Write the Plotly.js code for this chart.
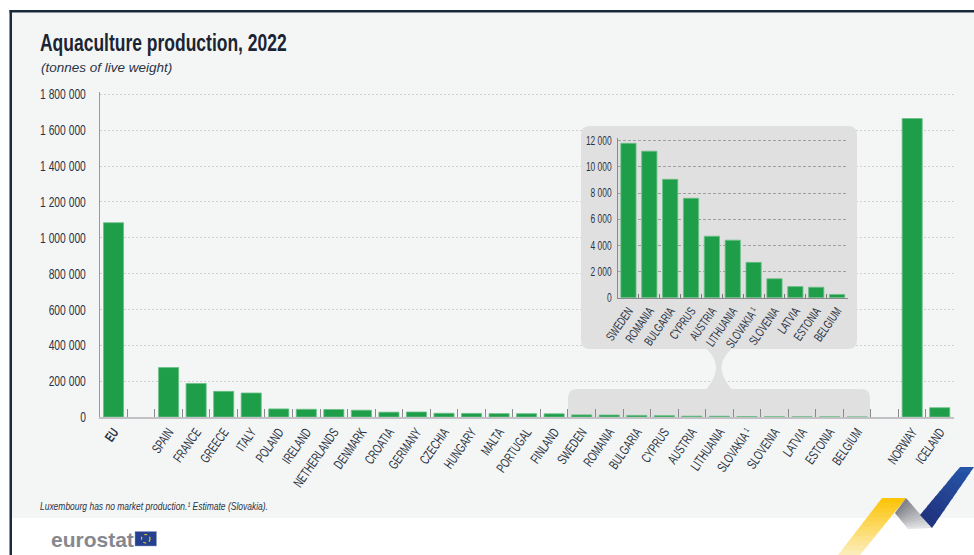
<!DOCTYPE html>
<html>
<head>
<meta charset="utf-8">
<script src="https://cdn.plot.ly/plotly-3.0.1.min.js"></script>
<style>html,body{margin:0;padding:0;background:#fff}#chart{width:974px;height:555px}</style>
</head>
<body>
<div id="chart"></div>
<script>
// Aquaculture production by country, tonnes of live weight
const mainCategories = ['EU', ' ', 'SPAIN', 'FRANCE', 'GREECE', 'ITALY', 'POLAND', 'IRELAND', 'NETHERLANDS', 'DENMARK', 'CROATIA', 'GERMANY', 'CZECHIA', 'HUNGARY', 'MALTA', 'PORTUGAL', 'FINLAND', 'SWEDEN', 'ROMANIA', 'BULGARIA', 'CYPRUS', 'AUSTRIA', 'LITHUANIA', 'SLOVAKIA ¹', 'SLOVENIA', 'LATVIA', 'ESTONIA', 'BELGIUM', '  ', 'NORWAY', 'ICELAND'];
const mainTickText = ['<b>EU</b>', ' ', 'SPAIN', 'FRANCE', 'GREECE', 'ITALY', 'POLAND', 'IRELAND', 'NETHERLANDS', 'DENMARK', 'CROATIA', 'GERMANY', 'CZECHIA', 'HUNGARY', 'MALTA', 'PORTUGAL', 'FINLAND', 'SWEDEN', 'ROMANIA', 'BULGARIA', 'CYPRUS', 'AUSTRIA', 'LITHUANIA', 'SLOVAKIA ¹', 'SLOVENIA', 'LATVIA', 'ESTONIA', 'BELGIUM', ' ', 'NORWAY', 'ICELAND'];
const mainValues = [1084000, null, 276000, 187000, 143000, 134000, 45000, 43000, 42000, 38000, 27000, 28000, 21000, 20000, 19000, 18500, 18000, 11800, 11200, 9050, 7600, 4700, 4400, 2700, 1450, 850, 800, 250, null, 1665000, 52000];
const insetCategories = ['SWEDEN', 'ROMANIA', 'BULGARIA', 'CYPRUS', 'AUSTRIA', 'LITHUANIA', 'SLOVAKIA ¹', 'SLOVENIA', 'LATVIA', 'ESTONIA', 'BELGIUM'];
const insetValues = [11800, 11200, 9050, 7600, 4700, 4400, 2700, 1450, 850, 800, 250];

const W = 974, H = 555;
const ink = '#2b3445', green = '#1f9e4a', greenEdge = '#6cc088', panel = '#e0e0e0', sheet = '#f4f6f6';
const face = '"Liberation Sans", sans-serif';

// Plot frame in page pixels
const plotL = 99.75, plotR = 953.5, plotT = 94.3, plotB = 417;
const inL = 618, inR = 847.5, inT = 140.7, inB = 297.7;
const yMax = 1800000, inMax = 12000, slots = mainCategories.length;
// Each value axis runs a little past its last tick so that tick keeps its gridline
const headPx = 2.5;
const yTop = yMax * (1 + headPx / (plotB - plotT));
const inTop = inMax * (1 + headPx / (inB - inT));

const fx = p => p / W, fy = p => 1 - p / H;
const dataX = p => -0.5 + (p - plotL) / (plotR - plotL) * slots;
const dataY = p => (plotB - p) / (plotB - plotT) * yMax;

// Grey callout linking the small producers to the enlarged panel, in data units of the main plot
function calloutPath() {
  const r = 9;
  const seq = [
    ['M', 581 + r, 126], ['L', 857 - r, 126], ['Q', 857, 126, 857, 126 + r], ['L', 857, 349 - r], ['Q', 857, 349, 857 - r, 349],
    ['L', 731.5, 349], ['C', 725, 355, 721.7, 361, 721.7, 368], ['C', 721.7, 375, 726, 382, 731.5, 389],
    ['L', 870 - r, 389], ['Q', 870, 389, 870, 389 + r], ['L', 870, plotB], ['L', 568, plotB], ['L', 568, 389 + r], ['Q', 568, 389, 568 + r, 389],
    ['L', 706.5, 389], ['C', 712, 382, 716, 375, 716, 368], ['C', 716, 361, 713, 355, 706.5, 349],
    ['L', 581 + r, 349], ['Q', 581, 349, 581, 349 - r], ['L', 581, 126 + r], ['Q', 581, 126, 581 + r, 126]
  ];
  return seq.map(s => {
    const out = [s[0]];
    for (let i = 1; i < s.length; i += 2) out.push(dataX(s[i]).toFixed(5) + ',' + dataY(s[i + 1]).toFixed(1));
    return out.join(' ');
  }).join(' ') + ' Z';
}

const paperPoly = pts => 'M ' + pts.map(q => fx(q[0]) + ',' + fy(q[1])).join(' L ') + ' Z';
const paperShape = (pts, color) => ({type: 'path', xref: 'paper', yref: 'paper', layer: 'below', path: paperPoly(pts), fillcolor: color, line: {width: 0}});

// Ribbon band cut into slices so its colour runs from one end to the other
function band(a0, a1, b0, b1, c0, c1, n) {
  const mix = (u, v, t) => u + (v - u) * t;
  const out = [];
  for (let i = 0; i < n; i++) {
    const s = i / n, e = (i + 1) / n;
    const col = 'rgb(' + [0, 1, 2].map(k => Math.round(mix(c0[k], c1[k], s))).join(',') + ')';
    const e2 = Math.min(1, e + 0.02);
    out.push(paperShape([
      [mix(a0[0], a1[0], s), mix(a0[1], a1[1], s)], [mix(b0[0], b1[0], s), mix(b0[1], b1[1], s)],
      [mix(b0[0], b1[0], e2), mix(b0[1], b1[1], e2)], [mix(a0[0], a1[0], e2), mix(a0[1], a1[1], e2)]
    ], col));
  }
  return out;
}

const shapes = [
  {type: 'rect', xref: 'paper', yref: 'paper', layer: 'below', x0: fx(12), x1: 1, y0: fy(518), y1: fy(12.5), fillcolor: sheet, line: {width: 0}},
  {type: 'rect', xref: 'paper', yref: 'paper', layer: 'below', x0: fx(9.5), x1: fx(12), y0: 0, y1: fy(10), fillcolor: '#1b2a3a', line: {width: 0}},
  {type: 'rect', xref: 'paper', yref: 'paper', layer: 'below', x0: fx(9.5), x1: 1, y0: fy(12.5), y1: fy(10), fillcolor: '#1b2a3a', line: {width: 0}},
  ...band([882, 498], [838, 555], [906, 498], [860, 555], [252, 197, 10], [252, 240, 200], 12),
  ...band([906, 498], [932, 528], [895, 513], [908, 529], [130, 132, 138], [235, 236, 238], 10),
  ...band([974, 467], [932, 528], [960, 467], [920, 515], [38, 84, 166], [32, 48, 124], 10),
  {type: 'rect', xref: 'paper', yref: 'paper', layer: 'below', x0: fx(135), x1: fx(156.5), y0: fy(546), y1: fy(531.5), fillcolor: '#24408e', line: {color: '#8fa0c8', width: 0.5}},
  {type: 'circle', xref: 'paper', yref: 'paper', layer: 'below', x0: fx(141.5), x1: fx(150), y0: fy(543), y1: fy(534.5), fillcolor: 'rgba(0,0,0,0)', line: {color: '#e8c81e', width: 1.2, dash: 'dot'}},
  {type: 'path', xref: 'x', yref: 'y', layer: 'between', path: calloutPath(), fillcolor: panel, line: {width: 0}}
];

const barStyle = {color: green, line: {color: greenEdge, width: 0.8}};
const traces = [
  {type: 'bar', x: mainCategories, y: mainValues, xaxis: 'x', yaxis: 'y', marker: barStyle},
  {type: 'bar', x: insetCategories, y: insetValues, xaxis: 'x2', yaxis: 'y2', marker: barStyle}
];

const layout = {
  width: W, height: H,
  margin: {l: 0, r: 0, t: 0, b: 0, pad: 0},
  paper_bgcolor: '#ffffff', plot_bgcolor: 'rgba(0,0,0,0)',
  showlegend: false, bargap: 0.27,
  separators: '. ',
  font: {family: face, color: ink, size: 13},
  title: {text: '<b>Aquaculture production, 2022</b>', x: fx(40), xanchor: 'left', y: fy(43), yanchor: 'middle',
    font: {family: face, size: 23, color: '#1b2433'}},
  xaxis: {
    domain: [fx(plotL), fx(plotR)], anchor: 'y', type: 'category', categoryorder: 'array', categoryarray: mainCategories,
    range: [-0.5, slots - 0.5], tickmode: 'array', tickvals: mainCategories, ticktext: mainTickText, tickson: 'boundaries',
    ticks: 'inside', ticklen: 8, tickwidth: 1, tickcolor: '#8a8a8e', tickangle: -55,
    showline: true, linecolor: '#c2c2c6', linewidth: 2, showgrid: false, zeroline: false,
    tickfont: {size: 13.5, family: face, color: ink}
  },
  yaxis: {
    domain: [fy(plotB), fy(plotT - headPx)], anchor: 'x', range: [0, yTop], tick0: 0, dtick: 200000, tickformat: ',d',
    ticks: '', ticklabelstandoff: 10, showline: true, linecolor: '#9a9a9a', linewidth: 1,
    showgrid: true, gridcolor: '#cfd1d1', griddash: '2px,2px', gridwidth: 1, zeroline: false,
    tickfont: {size: 14.5, family: face, color: ink}
  },
  xaxis2: {
    domain: [fx(inL), fx(inR)], anchor: 'y2', type: 'category', categoryorder: 'array', categoryarray: insetCategories,
    range: [-0.5, insetCategories.length - 0.5], tickson: 'boundaries', tickmode: 'array', tickvals: insetCategories,
    ticks: 'inside', ticklen: 4, tickwidth: 1, tickcolor: '#777', tickangle: -55,
    showline: true, linecolor: '#8a8a8a', linewidth: 1.2, showgrid: false, zeroline: false,
    tickfont: {size: 12.5, family: face, color: ink}
  },
  yaxis2: {
    domain: [fy(inB), fy(inT - headPx)], anchor: 'x2', range: [0, inTop], tick0: 0, dtick: 2000, tickformat: ',d',
    ticks: '', ticklabelstandoff: 3, showline: true, linecolor: '#8a8a8a', linewidth: 1,
    showgrid: true, gridcolor: '#a0a0a0', griddash: '3px,2px', gridwidth: 1, zeroline: false,
    tickfont: {size: 12, family: face, color: ink}
  },
  shapes: shapes,
  annotations: [
    {xref: 'paper', yref: 'paper', x: fx(38.5), y: fy(67), xanchor: 'left', yanchor: 'middle', showarrow: false,
      text: '<i>(tonnes of live weight)</i>', font: {family: face, size: 13.5, color: ink}},
    {xref: 'paper', yref: 'paper', x: fx(154), y: fy(506), xanchor: 'center', yanchor: 'middle', showarrow: false,
      text: '<i>Luxembourg has no market production.¹ Estimate (Slovakia).</i>', font: {family: face, size: 11, color: ink}},
    {xref: 'paper', yref: 'paper', x: fx(49), y: fy(539), xanchor: 'left', yanchor: 'middle', showarrow: false,
      text: '<b>eurostat</b>', font: {family: face, size: 21, color: '#85888e'}}
  ]
};

// The house typeface is a condensed one: narrow the drawn text by a per-role ratio
function condense(selector, ratio) {
  document.querySelectorAll('#chart ' + selector).forEach(t => {
    const len = t.getComputedTextLength();
    if (len > 0) {
      t.setAttribute('textLength', (len * ratio).toFixed(1));
      t.setAttribute('lengthAdjust', 'spacingAndGlyphs');
    }
  });
}

Plotly.newPlot('chart', traces, layout, {displayModeBar: false, staticPlot: true}).then(() => {
  condense('.xtick text', 0.68);
  condense('.x2tick text', 0.68);
  condense('.ytick text', 0.71);
  condense('.y2tick text', 0.7);
  condense('.gtitle', 0.76);
  document.querySelectorAll('#chart .annotation-text').forEach(n => {
    if (n.textContent.startsWith('Luxembourg')) {
      n.setAttribute('textLength', '228');
      n.setAttribute('lengthAdjust', 'spacingAndGlyphs');
    }
  });
});
</script>
</body>
</html>
